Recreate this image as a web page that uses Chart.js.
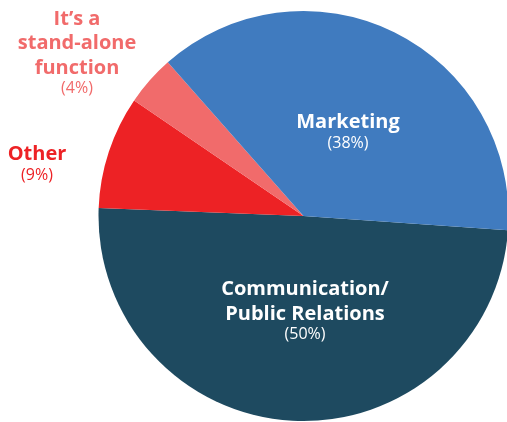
<!DOCTYPE html>
<html>
<head>
<meta charset="utf-8">
<script src="https://cdn.jsdelivr.net/npm/chart.js@4/dist/chart.umd.min.js"></script>
<style>
  html, body { margin: 0; padding: 0; background: #fff; overflow: hidden; }
  #wrap { width: 507px; height: 422px; overflow: hidden; }
</style>
</head>
<body>
<div id="wrap"><canvas id="pie" width="510" height="422"></canvas></div>
<script>
// slices, clockwise starting just below 3 o'clock
const categories = ["Communication/\nPublic Relations", "Other", "It’s a\nstand-alone\nfunction", "Marketing"];
const shares = [50, 9, 4, 38];
const colors = ["#1e4a60", "#ed2225", "#f16b6b", "#407bbf"];

// label anchor (baseline of first line) and colour
const labelStyle = [
  { x: 305, y: 295, color: "#fff" },
  { x: 37, y: 160, color: "#ed2225" },
  { x: 77, y: 24.5, color: "#f16b6b" },
  { x: 348, y: 128, color: "#fff" },
];

const FONT = "'Open Sans', Lato, sans-serif";

const pieLabels = {
  id: "pieLabels",
  afterDatasetsDraw(chart) {
    const ctx = chart.ctx;
    ctx.save();
    ctx.textAlign = "center";
    ctx.textBaseline = "alphabetic";
    categories.forEach((name, i) => {
      const s = labelStyle[i];
      const lines = name.split("\n");
      let y = s.y;
      ctx.fillStyle = s.color;
      ctx.font = "bold 20px " + FONT;
      lines.forEach((line, k) => {
        ctx.fillText(line, s.x, y);
        if (k < lines.length - 1) y += 24.5;
      });
      ctx.font = "16px " + FONT;
      ctx.fillText("(" + shares[i] + "%)", s.x, y + 19.5);
    });
    ctx.restore();
  }
};

new Chart(document.getElementById("pie"), {
  type: "pie",
  data: {
    labels: categories,
    datasets: [{
      data: shares,
      backgroundColor: colors,
      borderWidth: 0,
    }],
  },
  options: {
    responsive: false,
    animation: false,
    rotation: 94,
    layout: { padding: { left: 97, right: 0, top: 11, bottom: 1 } },
    plugins: {
      legend: { display: false },
      tooltip: { enabled: false },
    },
  },
  plugins: [pieLabels],
});
</script>
</body>
</html>
